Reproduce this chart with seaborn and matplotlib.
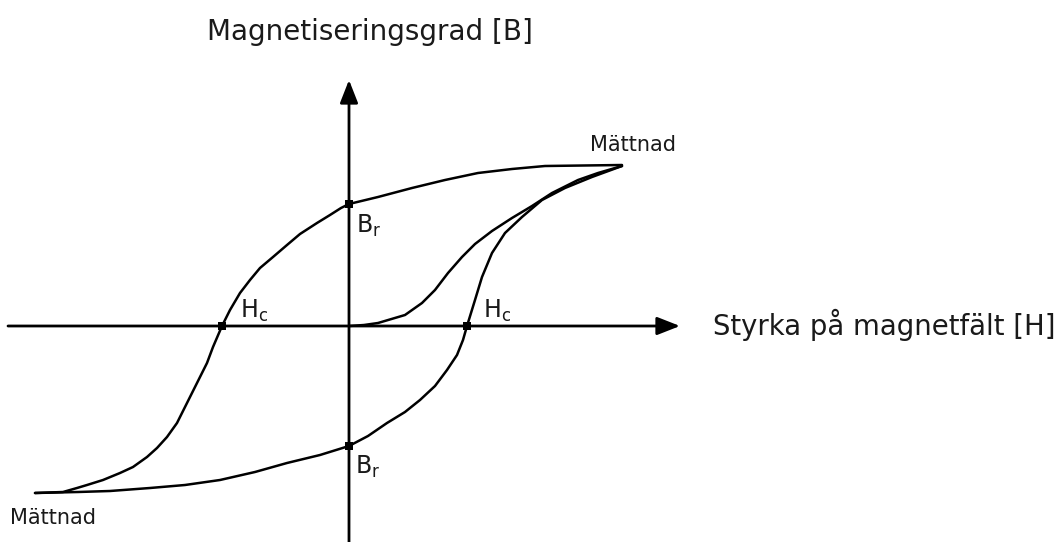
import matplotlib.pyplot as plt
import seaborn as sns

# Hysteresis loop, coordinates (H right, B up)
upper_H = [273, 196, 163, 129, 96, 63, 29, 0, -8, -19, -32, -49, -62, -76, -89, -99, -109,
           -119, -127, -136, -142, -152, -162, -172, -182, -192, -202, -216, -229,
           -246, -262, -272, -286, -314]
upper_B = [161, 160, 157, 153, 146, 138, 129, 122, 118, 111, 103, 92, 81, 69, 58, 46, 33,
           16, 0, -21, -37, -57, -77, -97, -111, -122, -131, -141, -147,
           -154, -159, -162, -166, -167]

lower_H = [-314, -271, -239, -199, -164, -129, -94, -62, -29, 0, 19, 38, 56, 71, 86, 98, 108,
           114, 118, 126, 133, 143, 156, 173, 193, 216, 243, 273]
lower_B = [-167, -166, -165, -162, -159, -154, -146, -137, -129, -120, -110, -97, -86, -74, -60,
           -44, -29, -14, 0, 26, 49, 73, 93, 109, 126, 138, 149, 160]

initial_H = [0, 15, 29, 56, 73, 86, 99, 113, 126, 143, 163, 183, 203, 229, 249, 273]
initial_B = [0, 1, 3, 11, 23, 36, 53, 69, 82, 95, 108, 120, 133, 146, 153, 160]

# remanence and coercivity points
point_H = [0, 0, -127, 118]
point_B = [122, -120, 0, 0]

sns.set_style("white")
plt.rcParams['font.family'] = ['DejaVu Sans']
plt.rcParams['mathtext.default'] = 'regular'
plt.rcParams['text.color'] = '#1a1a1a'

fig = plt.figure(figsize=(10.62, 5.42), dpi=100)
ax = fig.add_axes([0, 0, 1, 1])
ax.set_xlim(-349, 713)
ax.set_ylim(-216, 326)
ax.axis('off')

# axes with arrows
arrow = dict(arrowstyle='-|>,head_length=14,head_width=5.5', mutation_scale=1,
             lw=2, color='black', shrinkA=0, shrinkB=0)
ax.annotate('', xy=(331, 0), xytext=(-341, 0), arrowprops=arrow)
ax.annotate('', xy=(0, 246), xytext=(0, -216), arrowprops=arrow)

for h, b in [(upper_H, upper_B), (lower_H, lower_B), (initial_H, initial_B)]:
    sns.lineplot(x=h, y=b, sort=False, estimator=None, color='black', lw=1.8,
                 solid_joinstyle='round', ax=ax)

sns.scatterplot(x=point_H, y=point_B, marker='s', s=40, color='black',
                edgecolor='black', linewidth=0, ax=ax, zorder=5)

ax.text(-142, 294, 'Magnetiseringsgrad [B]', fontsize=20, ha='left', va='center')
ax.text(364, 1, 'Styrka på magnetfält [H]', fontsize=19.8, ha='left', va='center')
ax.text(241, 181, 'Mättnad', fontsize=15, ha='left', va='center')
ax.text(-339, -192, 'Mättnad', fontsize=15, ha='left', va='center')
ax.text(7, 100, 'B$_r$', fontsize=17, ha='left', va='center')
ax.text(6, -141, 'B$_r$', fontsize=17, ha='left', va='center')
ax.text(-109, 15, 'H$_c$', fontsize=17, ha='left', va='center')
ax.text(134, 15, 'H$_c$', fontsize=17, ha='left', va='center')

fig.savefig('out.png', dpi=100)
